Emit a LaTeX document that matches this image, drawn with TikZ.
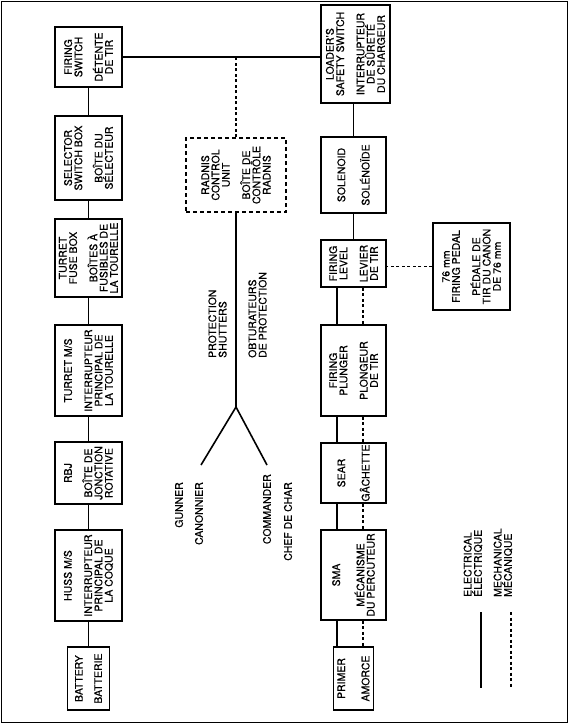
\documentclass[tikz,border=0pt]{standalone}
\usepackage{fontspec}
\setmainfont{TeX Gyre Heros}[FakeBold=0.4]
\begin{document}
\begin{tikzpicture}[x=1pt,y=-1pt,
  box/.style={draw, line width=1.8pt, rectangle, inner sep=0pt},
  dbox/.style={draw, line width=1.8pt, rectangle, inner sep=0pt, dash pattern=on 4pt off 3pt},
  txt/.style={rotate=90, align=center, inner sep=0pt, font=\fontsize{10.5}{10.3}\selectfont},
  elec/.style={line width=1.6pt},
  mech/.style={line width=1.7pt, dash pattern=on 3pt off 2.5pt}
]
\useasboundingbox (0,0) rectangle (568,723);
\draw[line width=1pt] (1,1) rectangle (567,722);

% left column
\node[box, minimum width=67pt, minimum height=60pt] (fs) at (88.5,57) {};
\node[txt] (fst) at (fs) {FIRING\\SWITCH\\[10pt]DÉTENTE\\DE TIR};
\node[box, minimum width=67pt, minimum height=84pt] (ssb) at (88.5,158) {};
\node[txt] (ssbt) at (ssb) {SELECTOR\\SWITCH BOX\\[10pt]BOÎTE DU\\SÉLECTEUR};
\node[box, minimum width=67pt, minimum height=78pt] (tfb) at (88.5,258) {};
\node[txt] (tfbt) at (tfb) {TURRET\\FUSE BOX\\[10pt]BOÎTES À\\FUSIBLES DE\\LA TOURELLE};
\node[box, minimum width=67pt, minimum height=91pt] (tms) at (88.5,370.5) {};
\node[txt] (tmst) at (tms) {TURRET M/S\\[10pt]INTERRUPTEUR\\PRINCIPAL DE\\LA TOURELLE};
\node[box, minimum width=67pt, minimum height=62pt] (rbj) at (88.5,473) {};
\node[txt] (rbjt) at (rbj) {RBJ\\[10pt]BOÎTE DE\\JONCTION\\ROTATIVE};
\node[box, minimum width=67pt, minimum height=91pt] (huss) at (88.5,575.5) {};
\node[txt] (husst) at (huss) {HUSS M/S\\[10pt]INTERRUPTEUR\\PRINCIPAL DE\\LA COQUE};
\node[box, minimum width=42pt, minimum height=63pt] (bat) at (88.5,678.5) {};
\node[txt] (batt) at (bat) {BATTERY\\[9pt]BATTERIE};

% right column
\node[box, minimum width=69pt, minimum height=98pt] (lss) at (355.5,54) {};
\node[txt] (lsst) at (lss) {LOADER'S\\SAFETY SWITCH\\[10pt]INTERRUPTEUR\\DE SÛRETÉ\\DU CHARGEUR};
\node[box, minimum width=65pt, minimum height=76pt] (sol) at (353.5,175) {};
\node[txt] (solt) at (sol) {SOLENOID\\[14pt]SOLÉNOÏDE};
\node[box, minimum width=65pt, minimum height=47pt] (fl) at (353.5,263.5) {};
\node[txt] (flt) at (fl) {FIRING\\LEVEL\\[10pt]LEVIER\\DE TIR};
\node[box, minimum width=65pt, minimum height=91pt] (fp) at (353.5,370.5) {};
\node[txt] (fpt) at (fp) {FIRING\\PLUNGER\\[10pt]PLONGEUR\\DE TIR};
\node[box, minimum width=65pt, minimum height=60pt] (sear) at (353.5,473) {};
\node[txt] (seart) at (sear) {SEAR\\[14pt]GÂCHETTE};
\node[box, minimum width=65pt, minimum height=90pt] (sma) at (353.5,575) {};
\node[txt] (smat) at (sma) {SMA\\[14pt]MÉCANISME\\DU PERCUTEUR};
\node[box, minimum width=40pt, minimum height=63pt] (pri) at (353.5,678.5) {};
\node[txt] (prit) at (pri) {PRIMER\\[14pt]AMORCE};
\node[box, minimum width=77pt, minimum height=87pt] (ped) at (471.5,266.5) {};
\node[txt] (pedt) at (ped) {76 mm\\FIRING PEDAL\\[10pt]PÉDALE DE\\TIR DU CANON\\DE 76 mm};

% middle
\node[dbox, minimum width=100pt, minimum height=74pt] (rad) at (236,175) {};
\node[txt] (radt) at (rad) {RADNIS\\CONTROL\\UNIT\\[10pt]BOÎTE DE\\CONTRÔLE\\RADNIS};
\node[txt, align=left, anchor=west] (prot) at (217.5,358) {PROTECTION\\SHUTTERS};
\node[txt, align=left, anchor=west] (obt) at (257.5,358) {OBTURATEURS\\DE PROTECTION};
\node[txt, anchor=east] (gun) at (179,482) {GUNNER};
\node[txt, anchor=east] (can) at (199,482) {CANONNIER};
\node[txt, anchor=east] (com) at (267,474) {COMMANDER};
\node[txt, anchor=east] (chef) at (288,482) {CHEF DE CHAR};

% legend
\node[txt, align=left, anchor=west] (el) at (473,597) {ELECTRICAL\\ÉLECTRIQUE};
\node[txt, align=left, anchor=west] (me) at (503,597) {MECHANICAL\\MÉCANIQUE};
\coordinate (l1a) at (481,612); \coordinate (l1b) at (481,688);
\coordinate (l2a) at (511,612); \coordinate (l2b) at (511,688);
\draw[elec] (l1a) -- (l1b);
\draw[mech] (l2a) -- (l2b);

% connectors left
\draw[elec] (fs) -- (ssb);
\draw[elec] (ssb) -- (tfb);
\draw[elec] (tfb) -- (tms);
\draw[elec] (tms) -- (rbj);
\draw[elec] (rbj) -- (huss);
\draw[elec] (huss) -- (bat);
\draw[elec] (fs.east) -- (fs.east -| lss.west);
\coordinate (j1) at (rad.north |- fs.east);
\draw[mech] (rad.north) -- (j1);
\coordinate (fork) at (236,407);
\coordinate (fg) at (201,465);
\coordinate (fc) at (267,465);
\draw[elec] (rad.south) -- (fork) -- (fg);
\draw[elec] (fork) -- (fc);

% connectors right
\draw[elec] (sol.north) -- (sol.north |- lss.south);
\draw[elec] (sol) -- (fl);
\foreach \a/\b in {fl/fp, fp/sear, sear/sma, sma/pri} {
  \draw[elec] ([xshift=-16.5pt]\a.south) -- ([xshift=-16.5pt]\b.north);
  \draw[mech] ([xshift=9.5pt]\a.south) -- ([xshift=9.5pt]\b.north);
}
\draw[mech] (ped.west) -- (ped.west -| fl.east);
\end{tikzpicture}
\end{document}
